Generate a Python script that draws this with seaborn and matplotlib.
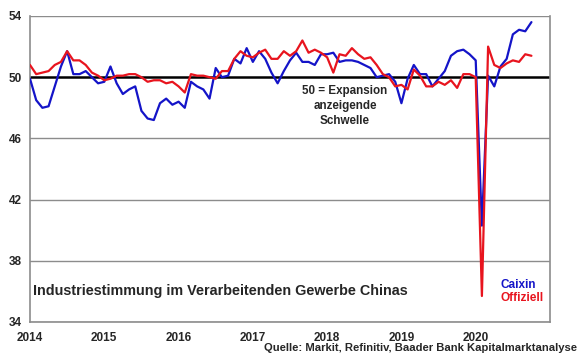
import numpy as np
import pandas as pd
import matplotlib
matplotlib.use("Agg")
import matplotlib.pyplot as plt
import seaborn as sns

caixin = [49.9, 48.5, 48.0, 48.1, 49.4, 50.7, 51.7, 50.2, 50.2, 50.4, 50.0, 49.6,
          49.7, 50.7, 49.6, 48.9, 49.2, 49.4, 47.8, 47.3, 47.2, 48.3, 48.6, 48.2,
          48.4, 48.0, 49.7, 49.4, 49.2, 48.6, 50.6, 50.0, 50.1, 51.2, 50.9, 51.9,
          51.0, 51.7, 51.2, 50.3, 49.6, 50.4, 51.1, 51.6, 51.0, 51.0, 50.8, 51.5,
          51.5, 51.6, 51.0, 51.1, 51.1, 51.0, 50.8, 50.6, 50.0, 50.1, 50.2, 49.7,
          48.3, 49.9, 50.8, 50.2, 50.2, 49.4, 49.9, 50.4, 51.4, 51.7, 51.8, 51.5,
          51.1, 40.3, 50.1, 49.4, 50.7, 51.2, 52.8, 53.1, 53.0, 53.6]
offiziell = [50.8, 50.2, 50.3, 50.4, 50.8, 51.0, 51.7, 51.1, 51.1, 50.8, 50.3, 50.1,
             49.8, 49.9, 50.1, 50.1, 50.2, 50.2, 50.0, 49.7, 49.8, 49.8, 49.6, 49.7,
             49.4, 49.0, 50.2, 50.1, 50.1, 50.0, 49.9, 50.4, 50.4, 51.2, 51.7, 51.4,
             51.3, 51.6, 51.8, 51.2, 51.2, 51.7, 51.4, 51.7, 52.4, 51.6, 51.8, 51.6,
             51.3, 50.3, 51.5, 51.4, 51.9, 51.5, 51.2, 51.3, 50.8, 50.2, 50.0, 49.4,
             49.5, 49.2, 50.5, 50.1, 49.4, 49.4, 49.7, 49.5, 49.8, 49.3, 50.2, 50.2,
             50.0, 35.7, 52.0, 50.8, 50.6, 50.9, 51.1, 51.0, 51.5, 51.4]
year_ticks = [2014, 2015, 2016, 2017, 2018, 2019, 2020]
y_ticks = [34, 38, 42, 46, 50, 54]

t = 2014 + np.arange(len(caixin)) / 12.0
df = pd.DataFrame({"t": t, "Caixin": caixin, "Offiziell": offiziell})

sns.set_style("white")
plt.rcParams['font.family'] = ['Liberation Sans', 'DejaVu Sans']

fig = plt.figure(figsize=(5.8, 3.59), dpi=100)
ax = fig.add_axes([30/580, 1-322/359, 520/580, 306/359])

for yv in y_ticks:
    if yv != 50:
        ax.axhline(yv, color="#8c8c8c", lw=1.0, zorder=1)
ax.axhline(50, color="black", lw=1.8, zorder=2)

sns.lineplot(data=df, x="t", y="Caixin", ax=ax, color="#1414c8", lw=1.6, zorder=3)
sns.lineplot(data=df, x="t", y="Offiziell", ax=ax, color="#e8141e", lw=1.6, zorder=4)

ax.set_xlim(2014, 2021)
ax.set_ylim(34, 54)
ax.set_xticks(year_ticks + [2021])
ax.set_xticklabels([str(y) for y in year_ticks] + [""])
ax.set_yticks(y_ticks)
ax.set_yticklabels([str(y) for y in y_ticks])
ax.set_xlabel("")
ax.set_ylabel("")
for lab in ax.get_xticklabels() + ax.get_yticklabels():
    lab.set_fontweight("bold")
    lab.set_fontsize(8.5)
ax.tick_params(axis="both", direction="out", length=4, width=1, color="#8c8c8c", pad=2)
ax.tick_params(axis="x", pad=3)
for s in ["left", "bottom", "right"]:
    ax.spines[s].set_color("#8c8c8c")
    ax.spines[s].set_linewidth(1.2)
ax.spines["top"].set_visible(False)

ax.text(0.606, 0.773, "50 = Expansion\nanzeigende\nSchwelle", transform=ax.transAxes,
        ha="center", va="top", fontsize=8.4, fontweight="bold", linespacing=1.3, zorder=5)
ax.text(0.006, 0.10, "Industriestimmung im Verarbeitenden Gewerbe Chinas",
        transform=ax.transAxes, ha="left", va="center", fontsize=10.4, fontweight="bold")
ax.text(0.905, 0.12, "Caixin", transform=ax.transAxes, ha="left", va="center",
        fontsize=8.5, fontweight="bold", color="#1414c8")
ax.text(0.905, 0.078, "Offiziell", transform=ax.transAxes, ha="left", va="center",
        fontsize=8.5, fontweight="bold", color="#e8141e")
fig.text(577/580, 1-348/359, "Quelle: Markit, Refinitiv, Baader Bank Kapitalmarktanalyse",
         ha="right", va="center", fontsize=8.1, fontweight="bold")

fig.savefig("out.png", dpi=100)
